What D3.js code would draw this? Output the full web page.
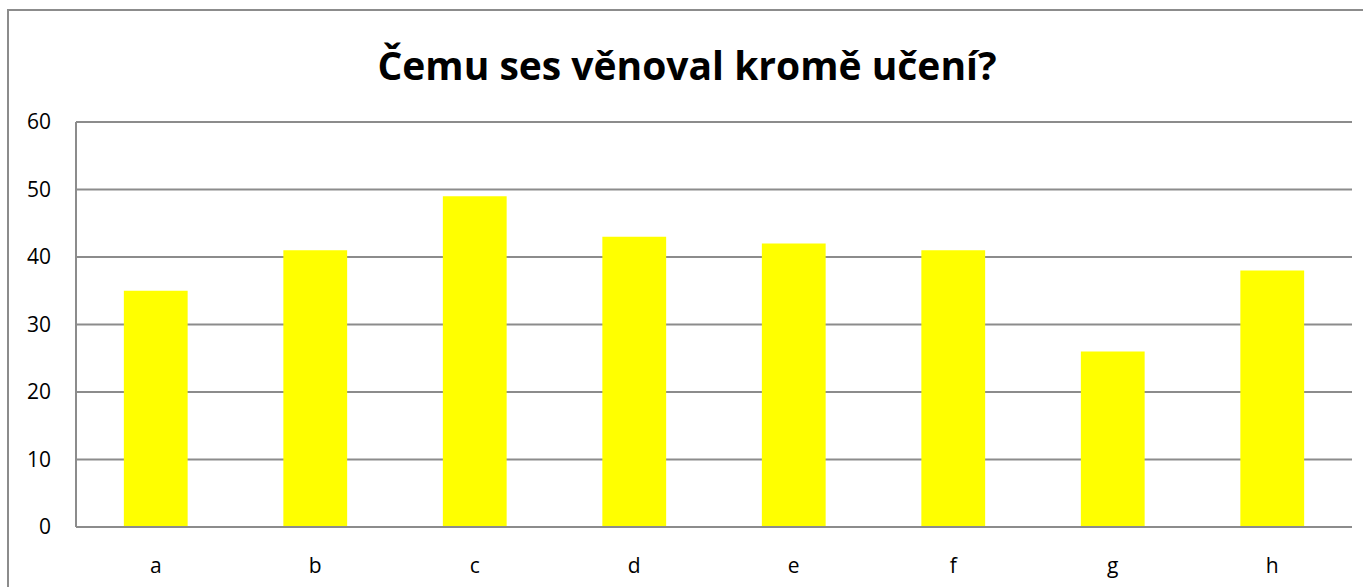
<!DOCTYPE html>
<html>
<head>
<meta charset="utf-8">
<script src="https://cdn.jsdelivr.net/npm/d3@7"></script>
<style>
    body { margin: 0; background: #fff; }
    svg text { font-family: "Open Sans", "DejaVu Sans", sans-serif; fill: #000; }
</style>
</head>
<body>
<div id="chart-area"></div>
<script>
// chart data
const categories = ["a", "b", "c", "d", "e", "f", "g", "h"];
const values = [35, 41, 49, 43, 42, 41, 26, 38];
const yTicks = [0, 10, 20, 30, 40, 50, 60];
const title = "Čemu ses věnoval kromě učení?";

const W = 1363, H = 587;
let margin = {top: 122, right: 11, bottom: 60, left: 76};
let width = W - margin.left - margin.right,
    height = H - margin.top - margin.bottom;

let svg = d3.select("#chart-area").append("svg")
    .attr("width", W)
    .attr("height", H);

// outer frame (runs off the right and bottom edges)
svg.append("rect")
    .attr("x", 8)
    .attr("y", 10)
    .attr("width", W + 10)
    .attr("height", H + 10)
    .attr("fill", "none")
    .attr("stroke", "#8c8c8c")
    .attr("stroke-width", 2);

svg.append("text")
    .attr("x", 687)
    .attr("y", 80)
    .attr("text-anchor", "middle")
    .attr("style", "font-size: 39px; font-weight: bold;")
    .text(title);

let g = svg.append("g")
    .attr("transform", "translate(" + margin.left + "," + margin.top + ")");

let x = d3.scaleBand()
    .domain(categories)
    .range([0, width])
    .paddingInner(0.6)
    .paddingOuter(0.3);

let y = d3.scaleLinear()
    .domain([0, 60])
    .range([height, 0]);

// gridlines
g.selectAll(".grid")
    .data(yTicks)
    .enter().append("line")
    .attr("class", "grid")
    .attr("x1", 0)
    .attr("x2", width)
    .attr("y1", d => y(d))
    .attr("y2", d => y(d))
    .attr("stroke", "#8c8c8c")
    .attr("stroke-width", 2);

// left axis line
g.append("line")
    .attr("x1", 0).attr("x2", 0)
    .attr("y1", 0).attr("y2", height)
    .attr("stroke", "#8c8c8c")
    .attr("stroke-width", 2);

g.selectAll(".bar")
    .data(values)
    .enter().append("rect")
    .attr("class", "bar")
    .attr("x", (d, i) => x(categories[i]))
    .attr("width", x.bandwidth())
    .attr("y", d => y(d))
    .attr("height", d => height - y(d))
    .attr("fill", "#ffff00");

// redraw baseline over bars
g.append("line")
    .attr("x1", 0).attr("x2", width)
    .attr("y1", height).attr("y2", height)
    .attr("stroke", "#8c8c8c")
    .attr("stroke-width", 2);

g.selectAll(".y-label")
    .data(yTicks)
    .enter().append("text")
    .attr("class", "y-label")
    .attr("x", -25)
    .attr("y", d => y(d))
    .attr("dy", "0.35em")
    .attr("text-anchor", "end")
    .attr("style", "font-size: 21px")
    .text(d => d);

g.selectAll(".x-label")
    .data(categories)
    .enter().append("text")
    .attr("class", "x-label")
    .attr("x", d => x(d) + x.bandwidth() / 2)
    .attr("y", height + 46)
    .attr("text-anchor", "middle")
    .attr("style", "font-size: 21px")
    .text(d => d);
</script>
</body>
</html>
